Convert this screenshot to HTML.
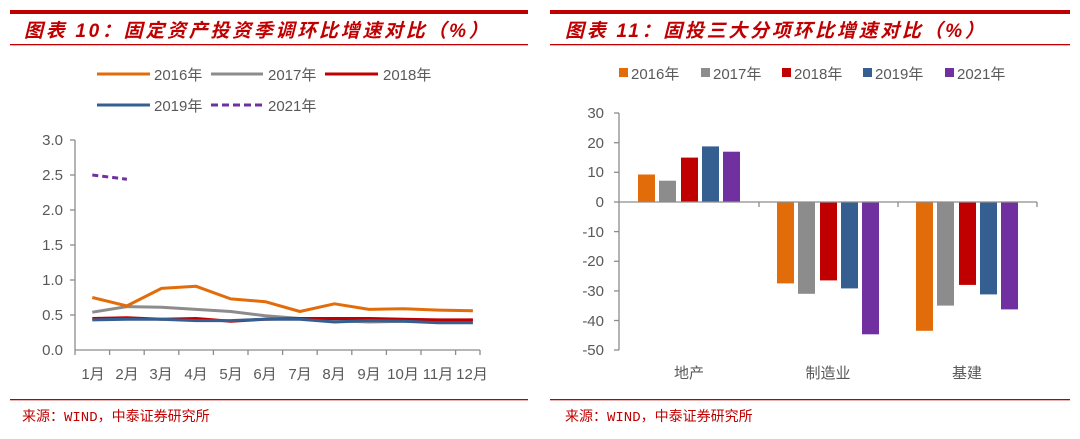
<!DOCTYPE html><html><head><meta charset="utf-8"><style>
body{margin:0;background:#fff;width:1080px;height:434px;overflow:hidden;font-family:"Liberation Sans","Noto Sans CJK SC",sans-serif}
</style></head><body>
<svg width="1080" height="434" xmlns="http://www.w3.org/2000/svg" font-family="Liberation Sans, Noto Sans CJK SC, sans-serif">
<rect x="10" y="10" width="518" height="4" fill="#c00000"/>
<rect x="10" y="44" width="518" height="1.3" fill="#c00000"/>
<rect x="550" y="10" width="520" height="4" fill="#c00000"/>
<rect x="550" y="44" width="520" height="1.3" fill="#c00000"/>
<text x="24" y="37" font-size="19" font-weight="bold" font-style="italic" fill="#c00000" letter-spacing="2.7">图表 10：固定资产投资季调环比增速对比（%）</text>
<text x="565" y="37" font-size="19" font-weight="bold" font-style="italic" fill="#c00000" letter-spacing="2.7">图表 11：固投三大分项环比增速对比（%）</text>
<rect x="10" y="399" width="518" height="1.3" fill="#c00000"/>
<rect x="550" y="399" width="520" height="1.3" fill="#c00000"/>
<text x="22" y="421" font-size="14" fill="#c00000" font-family="Liberation Mono, Noto Sans CJK SC, monospace">来源：WIND，中泰证券研究所</text>
<text x="565" y="421" font-size="14" fill="#c00000" font-family="Liberation Mono, Noto Sans CJK SC, monospace">来源：WIND，中泰证券研究所</text>

<g font-size="15" fill="#595959">
<line x1="97" y1="74" x2="150" y2="74" stroke="#e36c0a" stroke-width="3"/><text x="154" y="80">2016年</text>
<line x1="211" y1="74" x2="263" y2="74" stroke="#8c8c8c" stroke-width="3"/><text x="268" y="80">2017年</text>
<line x1="325" y1="74" x2="378" y2="74" stroke="#c00000" stroke-width="3"/><text x="383" y="80">2018年</text>
<line x1="97" y1="105" x2="150" y2="105" stroke="#365f91" stroke-width="3"/><text x="154" y="111">2019年</text>
<line x1="211" y1="105" x2="263" y2="105" stroke="#7030a0" stroke-width="3" stroke-dasharray="7,4"/><text x="268" y="111">2021年</text>
</g>
<g stroke="#8c8c8c" stroke-width="1.3">
<line x1="75" y1="140" x2="75" y2="350"/>
<line x1="75" y1="350" x2="480" y2="350"/>
<line x1="70" y1="140" x2="75" y2="140"/><line x1="70" y1="175" x2="75" y2="175"/><line x1="70" y1="210" x2="75" y2="210"/><line x1="70" y1="245" x2="75" y2="245"/><line x1="70" y1="280" x2="75" y2="280"/><line x1="70" y1="315" x2="75" y2="315"/>
<line x1="75" y1="350" x2="75" y2="355"/><line x1="109.6" y1="350" x2="109.6" y2="355"/><line x1="144.2" y1="350" x2="144.2" y2="355"/><line x1="178.8" y1="350" x2="178.8" y2="355"/><line x1="213.4" y1="350" x2="213.4" y2="355"/><line x1="248" y1="350" x2="248" y2="355"/><line x1="282.6" y1="350" x2="282.6" y2="355"/><line x1="317.2" y1="350" x2="317.2" y2="355"/><line x1="351.8" y1="350" x2="351.8" y2="355"/><line x1="386.4" y1="350" x2="386.4" y2="355"/><line x1="421" y1="350" x2="421" y2="355"/><line x1="455.6" y1="350" x2="455.6" y2="355"/><line x1="480" y1="350" x2="480" y2="355"/>
</g>
<g font-size="15" fill="#595959" text-anchor="end">
<text x="63" y="145">3.0</text><text x="63" y="180">2.5</text><text x="63" y="215">2.0</text><text x="63" y="250">1.5</text><text x="63" y="285">1.0</text><text x="63" y="320">0.5</text><text x="63" y="355">0.0</text>
</g>
<g font-size="15" fill="#595959" text-anchor="middle">
<text x="93" y="379">1月</text><text x="127" y="379">2月</text><text x="161" y="379">3月</text><text x="196" y="379">4月</text><text x="231" y="379">5月</text><text x="265" y="379">6月</text><text x="300" y="379">7月</text><text x="334" y="379">8月</text><text x="369" y="379">9月</text><text x="403" y="379">10月</text><text x="438" y="379">11月</text><text x="472" y="379">12月</text>
</g>
<g fill="none" stroke-width="3" stroke-linejoin="round">
<polyline stroke="#8c8c8c" points="92.3,312.2 126.9,306.6 161.5,307.3 196.1,309.4 230.7,311.5 265.3,315.7 299.9,318.5 334.5,320.6 369.1,322 403.7,321.3 438.3,320.6 472.9,319.9"/>
<polyline stroke="#c00000" points="92.3,318.5 126.9,317.8 161.5,319.2 196.1,318.5 230.7,321.3 265.3,319.2 299.9,318.5 334.5,318.5 369.1,318.5 403.7,319.2 438.3,319.9 472.9,319.9"/>
<polyline stroke="#365f91" points="92.3,319.9 126.9,319.2 161.5,319.2 196.1,320.6 230.7,320.6 265.3,319.2 299.9,319.2 334.5,322 369.1,320.6 403.7,321.3 438.3,322.7 472.9,322.7"/>
<polyline stroke="#e36c0a" points="92.3,297.5 126.9,305.9 161.5,288.4 196.1,286.3 230.7,298.9 265.3,301.7 299.9,311.5 334.5,303.8 369.1,309.4 403.7,308.7 438.3,310.1 472.9,310.8"/>
<polyline stroke="#7030a0" stroke-dasharray="6,4" points="92.3,175 126.9,179.2"/>
</g>

<g font-size="15" fill="#595959">
<rect x="619" y="68" width="9" height="9" fill="#e36c0a"/><text x="631" y="79">2016年</text>
<rect x="701" y="68" width="9" height="9" fill="#8c8c8c"/><text x="713" y="79">2017年</text>
<rect x="782" y="68" width="9" height="9" fill="#c00000"/><text x="794" y="79">2018年</text>
<rect x="863" y="68" width="9" height="9" fill="#365f91"/><text x="875" y="79">2019年</text>
<rect x="945" y="68" width="9" height="9" fill="#7030a0"/><text x="957" y="79">2021年</text>
</g>
<g>
<rect x="638" y="174.5" width="17" height="27.5" fill="#e36c0a"/>
<rect x="659" y="180.7" width="17" height="21.3" fill="#8c8c8c"/>
<rect x="681" y="157.6" width="17" height="44.4" fill="#c00000"/>
<rect x="702" y="146.4" width="17" height="55.6" fill="#365f91"/>
<rect x="723" y="151.7" width="17" height="50.3" fill="#7030a0"/>
<rect x="777" y="202" width="17" height="81.4" fill="#e36c0a"/>
<rect x="798" y="202" width="17" height="91.8" fill="#8c8c8c"/>
<rect x="820" y="202" width="17" height="78.4" fill="#c00000"/>
<rect x="841" y="202" width="17" height="86.4" fill="#365f91"/>
<rect x="862" y="202" width="17" height="132.3" fill="#7030a0"/>
<rect x="916" y="202" width="17" height="128.8" fill="#e36c0a"/>
<rect x="937" y="202" width="17" height="103.6" fill="#8c8c8c"/>
<rect x="959" y="202" width="17" height="82.9" fill="#c00000"/>
<rect x="980" y="202" width="17" height="92.4" fill="#365f91"/>
<rect x="1001" y="202" width="17" height="107.4" fill="#7030a0"/>
</g>
<g stroke="#8c8c8c" stroke-width="1.3">
<line x1="619" y1="113" x2="619" y2="350"/>
<line x1="619" y1="202" x2="1037" y2="202"/>
<line x1="614" y1="113" x2="619" y2="113"/><line x1="614" y1="142.7" x2="619" y2="142.7"/><line x1="614" y1="172.3" x2="619" y2="172.3"/><line x1="614" y1="202" x2="619" y2="202"/><line x1="614" y1="231.6" x2="619" y2="231.6"/><line x1="614" y1="261.3" x2="619" y2="261.3"/><line x1="614" y1="290.9" x2="619" y2="290.9"/><line x1="614" y1="320.5" x2="619" y2="320.5"/><line x1="614" y1="350" x2="619" y2="350"/>
<line x1="759" y1="202" x2="759" y2="207"/><line x1="898" y1="202" x2="898" y2="207"/><line x1="1037" y1="202" x2="1037" y2="207"/>
</g>
<g font-size="15" fill="#595959" text-anchor="end">
<text x="604" y="118">30</text><text x="604" y="148">20</text><text x="604" y="177">10</text><text x="604" y="207">0</text><text x="604" y="237">-10</text><text x="604" y="266">-20</text><text x="604" y="296">-30</text><text x="604" y="326">-40</text><text x="604" y="355">-50</text>
</g>
<g font-size="15" fill="#595959" text-anchor="middle">
<text x="689" y="378">地产</text><text x="828" y="378">制造业</text><text x="967" y="378">基建</text>
</g>
</svg>
</body></html>
